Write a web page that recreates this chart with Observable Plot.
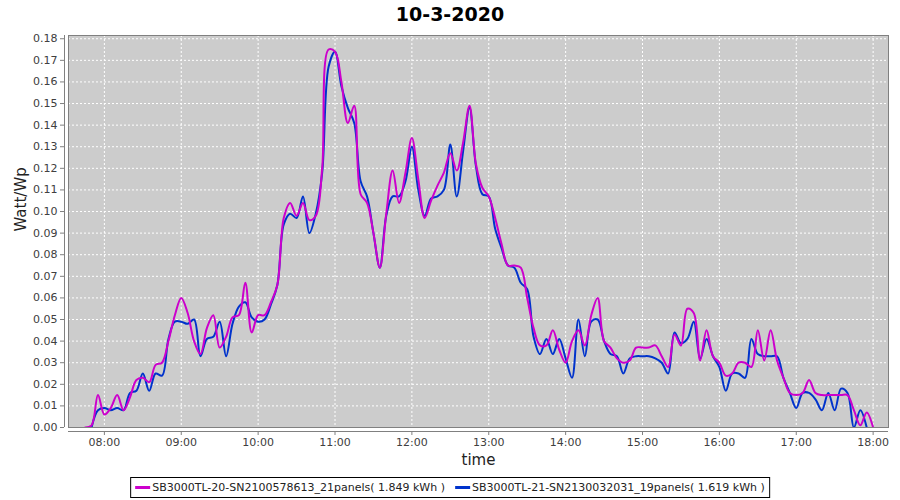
<!DOCTYPE html>
<html><head><meta charset="utf-8">
<script src="https://cdn.jsdelivr.net/npm/d3@7"></script>
<script src="https://cdn.jsdelivr.net/npm/@observablehq/plot@0.6"></script>
<style>
body{margin:0;background:#fff;font-family:"DejaVu Sans",sans-serif;}
#wrap{width:900px;height:500px;position:relative;overflow:hidden;background:#fff;}
#title{position:absolute;top:0;left:0;width:900px;height:30px;line-height:29px;text-align:center;font-weight:bold;font-size:19px;color:#000;}
#chart{position:absolute;top:30px;left:0;}
#legend{position:absolute;top:477px;left:50%;transform:translateX(-50%);border:1px solid #000;height:19px;padding:0 4px;font-size:11px;white-space:nowrap;display:flex;align-items:center;color:#222;background:#fff;}
#legend .item{display:flex;align-items:center;margin-right:10px;}
#legend .item:last-child{margin-right:0;}
#legend .sw{display:inline-block;width:15px;height:3px;margin-right:2px;}
</style></head><body>
<div id="wrap"><div id="title">10-3-2020</div><div id="chart"></div><div id="legend"></div></div>
<script>
const titleText = "10-3-2020";
const times = [
  "07:45","07:50","07:55",
  "08:00","08:05","08:10","08:15","08:20","08:25","08:30","08:35","08:40","08:45","08:50","08:55",
  "09:00","09:05","09:10","09:15","09:20","09:25","09:30","09:35","09:40","09:45","09:50","09:55",
  "10:00","10:05","10:10","10:15","10:20","10:25","10:30","10:35","10:40","10:45","10:50","10:55",
  "11:00","11:05","11:10","11:15","11:20","11:25","11:30","11:35","11:40","11:45","11:50","11:55",
  "12:00","12:05","12:10","12:15","12:20","12:25","12:30","12:35","12:40","12:45","12:50","12:55",
  "13:00","13:05","13:10","13:15","13:20","13:25","13:30","13:35","13:40","13:45","13:50","13:55",
  "14:00","14:05","14:10","14:15","14:20","14:25","14:30","14:35","14:40","14:45","14:50","14:55",
  "15:00","15:05","15:10","15:15","15:20","15:25","15:30","15:35","15:40","15:45","15:50","15:55",
  "16:00","16:05","16:10","16:15","16:20","16:25","16:30","16:35","16:40","16:45","16:50","16:55",
  "17:00","17:05","17:10","17:15","17:20","17:25","17:30","17:35","17:40","17:45","17:50","17:55",
  "18:00"
];
const sb20 = [
  0.000,0.001,0.015,
  0.006,0.009,0.015,0.008,0.014,0.022,0.023,0.021,0.029,0.030,0.040,0.052,
  0.060,0.053,0.040,0.034,0.046,0.052,0.037,0.042,0.051,0.052,0.067,0.044,
  0.052,0.052,0.058,0.066,0.097,0.104,0.098,0.104,0.096,0.098,0.120,0.175,
  0.174,0.160,0.141,0.149,0.108,0.104,0.090,0.074,0.099,0.119,0.104,0.118,
  0.134,0.115,0.097,0.105,0.112,0.118,0.127,0.119,0.132,0.149,0.122,0.111,
  0.107,0.097,0.085,0.075,0.075,0.074,0.060,0.046,0.038,0.038,0.045,0.036,
  0.030,0.040,0.045,0.038,0.052,0.060,0.040,0.037,0.032,0.030,0.031,0.037,
  0.037,0.037,0.038,0.033,0.028,0.043,0.038,0.055,0.053,0.031,0.045,0.033,
  0.030,0.024,0.025,0.030,0.030,0.028,0.045,0.031,0.045,0.031,0.023,0.016,
  0.015,0.016,0.022,0.016,0.015,0.015,0.015,0.015,0.015,0.008,0.001,0.007,
  0.000
];
const sb21 = [
  null,0.000,0.008,
  0.009,0.008,0.009,0.008,0.016,0.017,0.025,0.017,0.025,0.024,0.041,0.049,
  0.049,0.048,0.050,0.033,0.041,0.042,0.049,0.033,0.048,0.056,0.058,0.051,
  0.049,0.050,0.057,0.066,0.094,0.099,0.097,0.107,0.090,0.099,0.118,0.167,
  0.174,0.158,0.148,0.141,0.114,0.107,0.090,0.074,0.098,0.107,0.107,0.114,
  0.130,0.110,0.098,0.106,0.107,0.110,0.131,0.107,0.128,0.148,0.121,0.108,
  0.107,0.092,0.083,0.075,0.074,0.067,0.064,0.042,0.034,0.041,0.034,0.041,
  0.032,0.023,0.050,0.033,0.049,0.050,0.040,0.034,0.033,0.025,0.032,0.033,
  0.033,0.033,0.032,0.030,0.025,0.044,0.039,0.041,0.049,0.032,0.041,0.033,
  0.028,0.017,0.025,0.025,0.023,0.041,0.034,0.033,0.033,0.033,0.023,0.016,
  0.009,0.016,0.016,0.013,0.008,0.016,0.008,0.018,0.016,0.000,0.008,0.000,
  null
];
const seriesNames = [
  "SB3000TL-20-SN2100578613_21panels( 1.849 kWh )",
  "SB3000TL-21-SN2130032031_19panels( 1.619 kWh )"
];
const seriesColors = ["#cc00cc", "#0033cc"];
const xTickLabels = ["08:00","09:00","10:00","11:00","12:00","13:00","14:00","15:00","16:00","17:00","18:00"];
const yTickValues = [0,0.01,0.02,0.03,0.04,0.05,0.06,0.07,0.08,0.09,0.10,0.11,0.12,0.13,0.14,0.15,0.16,0.17,0.18];
const xLabel = "time";
const yLabel = "Watt/Wp";

const parseT = s => { const [h, m] = s.split(":").map(Number); return new Date(Date.UTC(2020, 2, 10, h, m)); };
const toRows = vals => times.map((t, i) => ({time: parseT(t), value: vals[i]})).filter(d => d.value != null);
const rows20 = toRows(sb20);
const rows21 = toRows(sb21);
const xTicks = xTickLabels.map(parseT);
const xMin = parseT("07:32"), xMax = parseT("18:12");

const chart = Plot.plot({
  width: 900, height: 440,
  marginTop: 5, marginBottom: 43, marginLeft: 68, marginRight: 12,
  style: {fontFamily: "DejaVu Sans", fontSize: "11px", color: "#404040", background: "white", overflow: "visible"},
  x: {type: "utc", domain: [xMin, xMax]},
  y: {domain: [0, 0.1815]},
  marks: [
    Plot.frame({fill: "#cccccc", stroke: "none"}),
    Plot.gridY(yTickValues, {stroke: "white", strokeOpacity: 1, strokeWidth: 1, strokeDasharray: "2,2"}),
    Plot.gridX(xTicks, {stroke: "white", strokeOpacity: 1, strokeWidth: 1, strokeDasharray: "2,2"}),
    Plot.line(rows21, {x: "time", y: "value", stroke: seriesColors[1], strokeWidth: 2, curve: "catmull-rom", clip: true}),
    Plot.line(rows20, {x: "time", y: "value", stroke: seriesColors[0], strokeWidth: 2, curve: "catmull-rom", clip: true}),
    Plot.frame({stroke: "#808080"}),
    Plot.axisY(yTickValues, {tickFormat: d3.format(".2f"), tickSize: 4, dx: -4, tickPadding: 3, label: null, stroke: "#808080"}),
    Plot.axisX(xTicks, {tickFormat: d3.utcFormat("%H:%M"), tickSize: 4, dy: 4, tickPadding: 3, label: null, stroke: "#808080"}),
    Plot.ruleX([xMin], {dx: -4, stroke: "#808080"}),
    Plot.ruleY([0], {dy: 4, stroke: "#808080"}),
    Plot.text([yLabel], {frameAnchor: "left", dx: -47, rotate: -90, fontSize: 15, fill: "#222", lineAnchor: "middle"}),
    Plot.text([xLabel], {frameAnchor: "bottom", dy: 33, fontSize: 15, fill: "#222", lineAnchor: "middle"})
  ]
});
document.getElementById("chart").appendChild(chart);
document.getElementById("title").textContent = titleText;

const legend = document.getElementById("legend");
seriesNames.forEach((name, i) => {
  const item = document.createElement("span");
  item.className = "item";
  const sw = document.createElement("span");
  sw.className = "sw";
  sw.style.background = seriesColors[i];
  item.appendChild(sw);
  item.appendChild(document.createTextNode(name));
  legend.appendChild(item);
});
</script>
</body></html>
